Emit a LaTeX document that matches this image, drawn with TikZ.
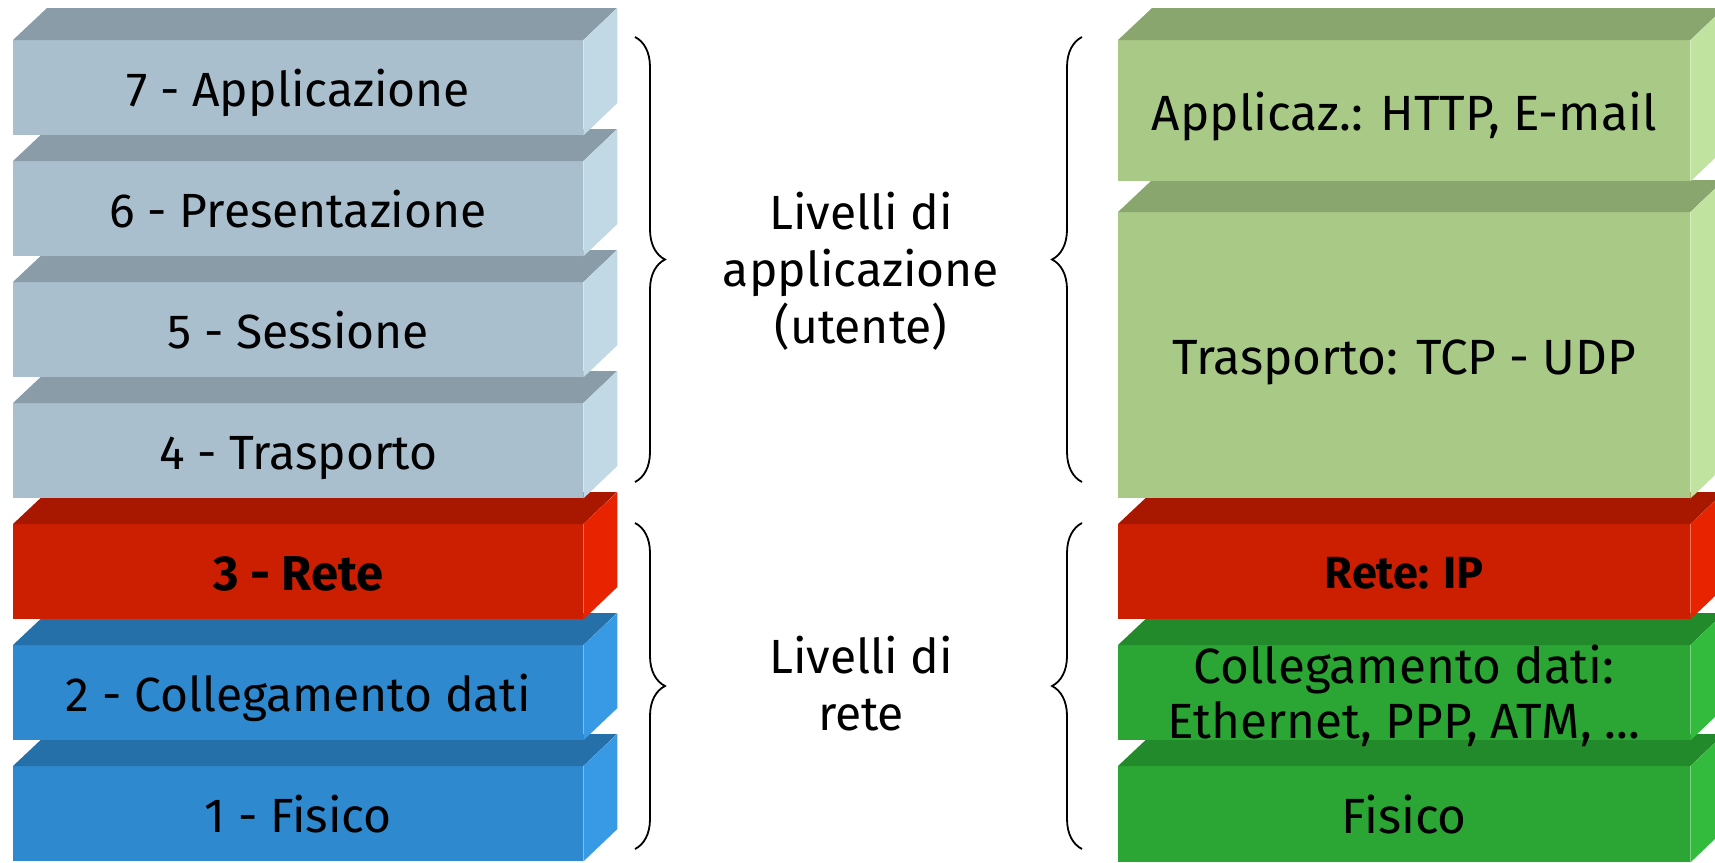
\documentclass[tikz,border=0pt]{standalone}
\usepackage{fontspec}
\setmainfont{Fira Sans}
\usetikzlibrary{decorations.pathreplacing}
\definecolor{grayF}{HTML}{AABFCE}
\definecolor{grayT}{HTML}{8A9CA7}
\definecolor{grayS}{HTML}{C1D8E5}
\definecolor{redF}{HTML}{CC1E00}
\definecolor{redT}{HTML}{A81800}
\definecolor{redS}{HTML}{E82300}
\definecolor{blueF}{HTML}{2F89CE}
\definecolor{blueT}{HTML}{2570A8}
\definecolor{blueS}{HTML}{3899E5}
\definecolor{lgrF}{HTML}{A9C987}
\definecolor{lgrT}{HTML}{8AA66F}
\definecolor{lgrS}{HTML}{C0E3A0}
\definecolor{grnF}{HTML}{2BA634}
\definecolor{grnT}{HTML}{238A2B}
\definecolor{grnS}{HTML}{33BB3D}
\tikzset{
  face/.style={draw=none, inner sep=0pt, anchor=north west},
  big/.style={font=\fontsize{48}{55}\selectfont},
  bigr/.style={font=\fontsize{49.5}{55}\selectfont},
  bigb/.style={font=\fontsize{49}{55}\selectfont\bfseries},
  midb/.style={font=\fontsize{45}{50}\selectfont\bfseries},
  midtext/.style={align=center, inner sep=0pt, font=\fontsize{48}{57}\selectfont},
  bracel/.style={draw=black, line width=1.8pt, decorate, decoration={brace, amplitude=30pt, aspect=0.5}},
}
\newcommand\layerbox[9]{%
  \node[face, fill=#6F, minimum width=#4, minimum height=#5] (#1) at (#2,#3) {};
  \fill[#6T] (#1.north west) -- ++(34,-32) -- ++(#4,0) -- (#1.north east) -- cycle;
  \fill[#6S] (#1.north east) -- ++(34,-32) -- ++(0,#5) -- (#1.south east) -- cycle;
  \node[anchor=base, inner sep=0pt, align=center, text=black, #7] (#1t) at ([yshift=#9pt]#1.center) {#8};
}
\begin{document}
\begin{tikzpicture}[x=1pt,y=-1pt]
\useasboundingbox (0,0) rectangle (1715,862);
\clip (0,0) rectangle (1715,862);
% left stack
\layerbox{L1}{13}{766}{570}{95}{blue}{big}{1 - Fisico}{-19}
\layerbox{L2}{13}{645}{570}{95}{blue}{big}{2 - Collegamento dati}{-19}
\layerbox{L3}{13}{524}{570}{95}{red}{bigb}{3 - Rete}{-19}
\layerbox{L4}{13}{403}{570}{95}{gray}{big}{4 - Trasporto}{-19}
\layerbox{L5}{13}{282}{570}{95}{gray}{big}{5 - Sessione}{-19}
\layerbox{L6}{13}{161}{570}{95}{gray}{big}{6 - Presentazione}{-19}
\layerbox{L7}{13}{40}{570}{95}{gray}{big}{7 - Applicazione}{-19}
% right stack
\layerbox{R1}{1118}{766}{572}{96}{grn}{bigr}{Fisico}{-19.5}
\layerbox{R2}{1118}{645}{572}{95}{grn}{bigr, anchor=center}{Collegamento dati:\\Ethernet, PPP, ATM, ...}{-3}
\layerbox{R3}{1118}{524}{572}{95}{red}{midb}{Rete: IP}{-16.5}
\layerbox{R4}{1118}{212}{572}{286}{lgr}{bigr}{Trasporto: TCP - UDP}{-19.5}
\layerbox{R5}{1118}{40}{572}{141}{lgr}{bigr}{Applicaz.: HTTP, E-mail}{-19.5}
% braces
\coordinate (bl1a) at (635,37);  \coordinate (bl1b) at (635,482);
\coordinate (bl2a) at (635,523); \coordinate (bl2b) at (635,849);
\coordinate (br1a) at (1082,37);  \coordinate (br1b) at (1082,482);
\coordinate (br2a) at (1082,523); \coordinate (br2b) at (1082,849);
\draw[bracel] (bl1a) -- (bl1b);
\draw[bracel] (bl2a) -- (bl2b);
\draw[bracel] (br1b) -- (br1a);
\draw[bracel] (br2b) -- (br2a);
% middle labels
\node[midtext] (appl) at (861,271) {Livelli di\\applicazione\\(utente)};
\node[midtext] (rete) at (861,684) {Livelli di\\rete};
\end{tikzpicture}
\end{document}
